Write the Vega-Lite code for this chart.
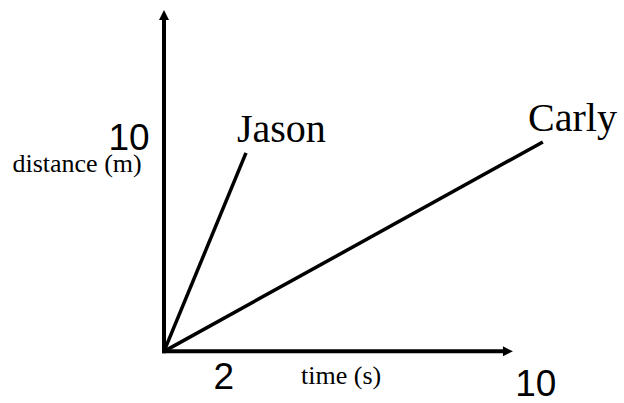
{
  "$schema": "https://vega.github.io/schema/vega-lite/v6.json",
  "width": 624,
  "height": 403,
  "padding": 0,
  "autosize": {"type": "fit", "contains": "padding"},
  "background": "white",
  "config": {"view": {"stroke": null}},
  "datasets": {
    "lines": [
      {"series": "Jason", "time": 0, "distance": 0},
      {"series": "Jason", "time": 2, "distance": 10},
      {"series": "Carly", "time": 0, "distance": 0},
      {"series": "Carly", "time": 9.24, "distance": 10.55}
    ],
    "axes": [
      {"axis": "y", "time": 0, "time2": 0, "distance": 0, "distance2": 16.8},
      {"axis": "x", "time": 0, "time2": 8.3, "distance": 0, "distance2": 0}
    ],
    "upArrow": [{"time": 0, "distance": 17.2}],
    "rightArrow": [{"time": 8.51, "distance": 0}],
    "numbers": [
      {"label": "10", "time": -0.854, "distance": 10.15},
      {"label": "2", "time": 1.46, "distance": -1.9},
      {"label": "10", "time": 9.07, "distance": -2.25}
    ],
    "titles": [
      {"label": "distance (m)", "time": -2.12, "distance": 9.05},
      {"label": "time (s)", "time": 4.32, "distance": -1.65}
    ],
    "names": [
      {"label": "Jason", "time": 1.78, "distance": 10.55},
      {"label": "Carly", "time": 8.88, "distance": 11.1}
    ]
  },
  "encoding": {
    "x": {"field": "time", "type": "quantitative", "axis": null, "scale": {"domain": [-4, 11.2195], "nice": false, "zero": false}},
    "y": {"field": "distance", "type": "quantitative", "axis": null, "scale": {"domain": [-2.45, 17.7], "nice": false, "zero": false}}
  },
  "layer": [
    {
      "data": {"name": "axes"},
      "mark": {"type": "rule", "color": "black", "strokeWidth": 4, "strokeCap": "square"},
      "encoding": {
        "x2": {"field": "time2"},
        "y2": {"field": "distance2"}
      }
    },
    {
      "data": {"name": "upArrow"},
      "mark": {"type": "point", "shape": "M0,0L-1,2L1,2Z", "size": 100, "filled": true, "color": "black", "opacity": 1, "strokeWidth": 0}
    },
    {
      "data": {"name": "rightArrow"},
      "mark": {"type": "point", "shape": "M0,0L-2,-1L-2,1Z", "size": 100, "filled": true, "color": "black", "opacity": 1, "strokeWidth": 0}
    },
    {
      "data": {"name": "lines"},
      "mark": {"type": "line", "color": "black", "strokeWidth": 3.5},
      "encoding": {"detail": {"field": "series"}}
    },
    {
      "data": {"name": "numbers"},
      "mark": {"type": "text", "font": "Liberation Sans", "fontSize": 37, "align": "center", "baseline": "alphabetic", "color": "black"},
      "encoding": {"text": {"field": "label"}}
    },
    {
      "data": {"name": "titles"},
      "mark": {"type": "text", "font": "Liberation Serif", "fontSize": 26, "align": "center", "baseline": "alphabetic", "color": "black"},
      "encoding": {"text": {"field": "label"}}
    },
    {
      "data": {"name": "names"},
      "mark": {"type": "text", "font": "Liberation Serif", "fontSize": 40, "align": "left", "baseline": "alphabetic", "color": "black"},
      "encoding": {"text": {"field": "label"}}
    }
  ]
}
